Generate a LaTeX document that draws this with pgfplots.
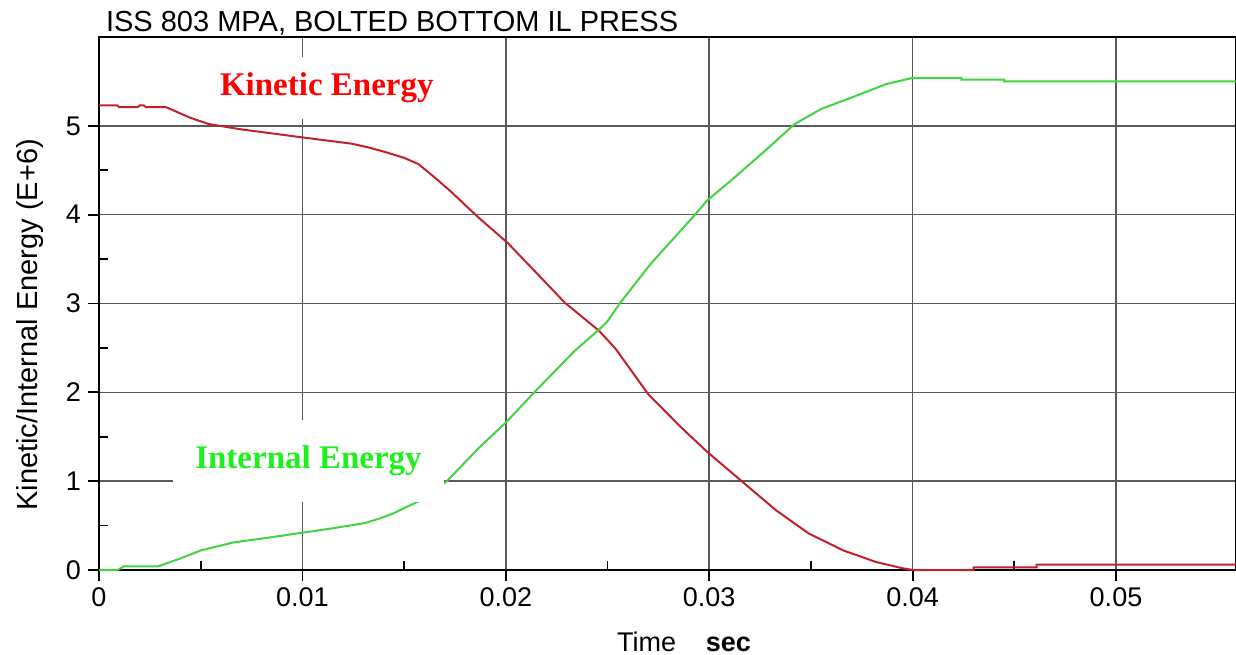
\documentclass[border=0pt]{standalone}
\usepackage{fontspec}
\setmainfont{Liberation Sans}
\newfontfamily\timesfont{Liberation Serif}
\usepackage{pgfplots}
\pgfplotsset{compat=1.18}
\usetikzlibrary{calc}

\definecolor{kecurve}{RGB}{196,32,44}
\definecolor{iecurve}{RGB}{64,212,64}
\definecolor{kelabel}{RGB}{255,0,0}
\definecolor{ielabel}{RGB}{30,240,30}
\definecolor{gridgray}{RGB}{90,90,90}

\begin{document}
\begin{tikzpicture}
\begin{axis}[
    scale only axis,
    width=568.5pt, height=266.5pt,
    xmin=0, xmax=0.0559,
    ymin=0, ymax=6,
    xtick={0,0.01,0.02,0.03,0.04,0.05},
    ytick={0,1,2,3,4,5},
    minor x tick num=1,
    minor y tick num=1,
    scaled x ticks=false,
    xticklabel style={/pgf/number format/fixed, /pgf/number format/precision=2},
    /pgf/number format/assume math mode=true,
    tick label style={font=\fontsize{13.5}{15}\selectfont},
    tick pos=left,
    tick align=outside,
    major tick length=5.5pt,
    minor tick length=-4.5pt,
    tick style={black, line width=0.9pt},
    xmajorgrids, ymajorgrids,
    major grid style={gridgray, line width=0.75pt},
    axis line style={black, line width=1pt},
    every axis title shift=0pt,
    title={ISS 803 MPA, BOLTED BOTTOM IL PRESS},
    title style={at={(rel axis cs:0,1)}, anchor=base west, yshift=3pt,
      font=\fontsize{14.5}{16}\selectfont},
    xlabel={Time\hspace{1.1em}\textbf{sec}},
    xlabel style={at={(rel axis cs:0.5145,-0.135)}, anchor=center,
      font=\fontsize{13.5}{16}\selectfont},
    ylabel={Kinetic/Internal Energy (E+6)},
    ylabel style={at={(rel axis cs:-0.0607,0.46)}, anchor=center, rotate=0,
      font=\fontsize{14.5}{17}\selectfont},
    clip=false,
]
% kinetic energy
\addplot[kecurve, line width=1pt] coordinates {
  (0,5.23)(0.0009,5.23)(0.001,5.21)(0.0019,5.21)(0.002,5.23)(0.0022,5.23)
  (0.0023,5.21)(0.0033,5.21)(0.0045,5.09)(0.0054,5.02)(0.007,4.96)
  (0.01,4.87)(0.0124,4.80)(0.0132,4.76)(0.0140,4.71)(0.0150,4.64)
  (0.0157,4.57)(0.0165,4.42)(0.0173,4.26)(0.0186,3.98)(0.0201,3.68)
  (0.0214,3.37)(0.0229,3.01)(0.0246,2.69)(0.0254,2.49)(0.027,1.98)
  (0.0286,1.61)(0.0299,1.33)(0.0317,0.98)(0.0333,0.67)(0.0349,0.41)
  (0.0366,0.22)(0.0382,0.09)(0.0395,0.02)(0.040,0)(0.0430,0)
  (0.0430,0.03)(0.0461,0.03)(0.0461,0.06)(0.0559,0.06)};
% internal energy
\addplot[iecurve, line width=1pt] coordinates {
  (0,0)(0.0009,0)(0.001,0.01)(0.0012,0.04)(0.0029,0.04)(0.004,0.13)
  (0.005,0.22)(0.0066,0.31)(0.0082,0.36)(0.01,0.42)(0.0115,0.47)
  (0.0131,0.53)(0.0138,0.58)(0.0145,0.64)(0.0153,0.73)(0.0159,0.79)
  (0.0168,0.95)(0.0171,1.0)(0.0187,1.38)(0.020,1.66)(0.0214,2.0)
  (0.0234,2.47)(0.0246,2.71)(0.0250,2.80)(0.0256,3.0)(0.0271,3.44)
  (0.0293,4.0)(0.0299,4.16)(0.0312,4.41)(0.0327,4.71)(0.0342,5.02)
  (0.0355,5.19)(0.0369,5.31)(0.0387,5.47)(0.040,5.54)(0.0424,5.54)
  (0.0424,5.52)(0.0445,5.52)(0.0445,5.50)(0.0559,5.50)};

\node[fill=white, inner xsep=8pt, inner ysep=8pt, text=kelabel,
  font=\timesfont\bfseries\fontsize{16.5}{18}\selectfont]
  at (axis cs:0.0112,5.43) {Kinetic Energy};
\node[fill=white, inner xsep=11pt, inner ysep=13pt, text=ielabel,
  font=\timesfont\bfseries\fontsize{16.5}{18}\selectfont]
  at (axis cs:0.0103,1.23) {Internal Energy};

\coordinate (O) at (rel axis cs:0,0);
\end{axis}
\pgfresetboundingbox
\path[use as bounding box] ($(O)+(-49.5pt,-42pt)$) rectangle ($(O)+(568.5pt,285pt)$);
\end{tikzpicture}
\end{document}
